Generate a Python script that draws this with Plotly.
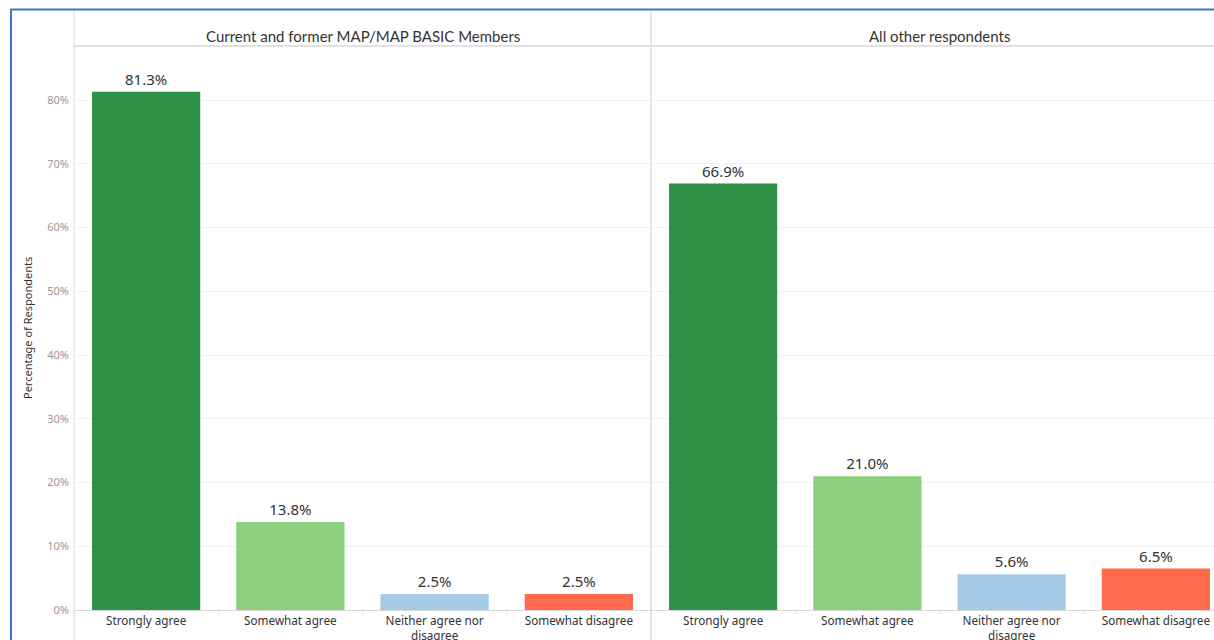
import plotly.graph_objects as go

# Survey responses by group (percent of respondents)
categories = ["Strongly agree", "Somewhat agree", "Neither agree nor disagree", "Somewhat disagree"]
tick_labels = ["Strongly agree", "Somewhat agree", "Neither agree nor<br>disagree", "Somewhat disagree"]
panel_titles = ["Current and former MAP/MAP BASIC Members", "All other respondents"]
members_pct = [81.3, 13.8, 2.5, 2.5]
others_pct = [66.9, 21.0, 5.6, 6.5]
bar_colors = ["#2f9145", "#8ccf7d", "#a3cbe8", "#ff6a4c"]

W, H = 1214, 640
px = lambda x: x / W          # horizontal pixel -> paper
py = lambda y: 1 - y / H      # vertical pixel (from top) -> paper

left_edge, split, plot_top, plot_bottom = 74, 651, 46, 610
slot = (split - left_edge) / 4
y_max = 10 * (plot_bottom - plot_top) / ((plot_bottom - 100) / 8)

fig = go.Figure()
for vals, xa, ya in [(members_pct, "x", "y"), (others_pct, "x2", "y2")]:
    fig.add_trace(go.Bar(
        x=categories, y=vals, xaxis=xa, yaxis=ya,
        marker=dict(color=bar_colors, line=dict(width=0)),
        width=0.75,
        text=[f"{v:.1f}%" for v in vals], textposition="outside",
        textfont=dict(family="Noto Sans", size=15, color="#333333"),
        cliponaxis=False, showlegend=False, hoverinfo="skip",
    ))

y_ticks = list(range(0, 90, 10))
axis_x = dict(
    type="category", categoryorder="array", categoryarray=categories,
    tickvals=categories, ticktext=tick_labels, automargin=False,
    showgrid=False, zeroline=False, showline=True, linecolor="#d9d9d9", linewidth=1,
    ticks="outside", tickson="boundaries", ticklen=4, tickcolor="#e6e6e6",
    tickfont=dict(family="Noto Sans", size=11.7, color="#333333"),
)
fig.update_layout(
    width=W, height=H, margin=dict(l=0, r=0, t=0, b=0),
    paper_bgcolor="white", plot_bgcolor="white",
    bargap=0.25,
    xaxis=dict(axis_x, domain=[px(left_edge), px(split)], range=[-0.5, 3.5], anchor="y"),
    xaxis2=dict(axis_x, domain=[px(split), 1], range=[-0.5, -0.5 + (W - split) / slot], anchor="y2"),
    yaxis=dict(domain=[py(plot_bottom), py(plot_top)], range=[0, y_max], anchor="x", automargin=False,
               tickvals=y_ticks, ticktext=[f"{t}%" for t in y_ticks], ticklabelstandoff=4,
               showgrid=True, gridcolor="#f2f2f2", zeroline=False, showline=False,
               tickfont=dict(family="Noto Sans", size=11, color="#999999"), ticks=""),
    yaxis2=dict(domain=[py(plot_bottom), py(plot_top)], range=[0, y_max], anchor="x2", automargin=False,
                matches="y", tickvals=y_ticks, showticklabels=False,
                showgrid=True, gridcolor="#f2f2f2", zeroline=False, showline=False),
)

# Frame, header band and panel dividers
shapes = [
    dict(type="line", xref="paper", yref="paper", x0=px(left_edge), x1=px(left_edge), y0=0, y1=py(10),
         line=dict(color="#d9d9d9", width=1)),
    dict(type="line", xref="paper", yref="paper", x0=px(split), x1=px(split), y0=0, y1=py(10),
         line=dict(color="#d0d0d0", width=1)),
    dict(type="line", xref="paper", yref="paper", x0=px(left_edge), x1=1, y0=py(plot_top), y1=py(plot_top),
         line=dict(color="#e2e2e2", width=2)),
    dict(type="rect", xref="paper", yref="paper", x0=px(11), x1=1.05, y0=-0.05, y1=py(9.5),
         line=dict(color="#4472c4", width=2)),
]
fig.update_layout(shapes=shapes)

annotations = [
    dict(text=panel_titles[0], x=px((left_edge + split) / 2), y=py(36), xref="paper", yref="paper",
         xanchor="center", yanchor="middle", showarrow=False,
         font=dict(family="Lato", size=15, color="#333333")),
    dict(text=panel_titles[1], x=px((split + split + 4 * slot) / 2), y=py(36), xref="paper", yref="paper",
         xanchor="center", yanchor="middle", showarrow=False,
         font=dict(family="Lato", size=15, color="#333333")),
    dict(text="Percentage of Respondents", x=px(27), y=py((plot_top + plot_bottom) / 2),
         xref="paper", yref="paper", xanchor="center", yanchor="middle", showarrow=False, textangle=-90,
         font=dict(family="Noto Sans", size=11, color="#333333")),
]
fig.update_layout(annotations=annotations)

fig.write_html("out.html")
